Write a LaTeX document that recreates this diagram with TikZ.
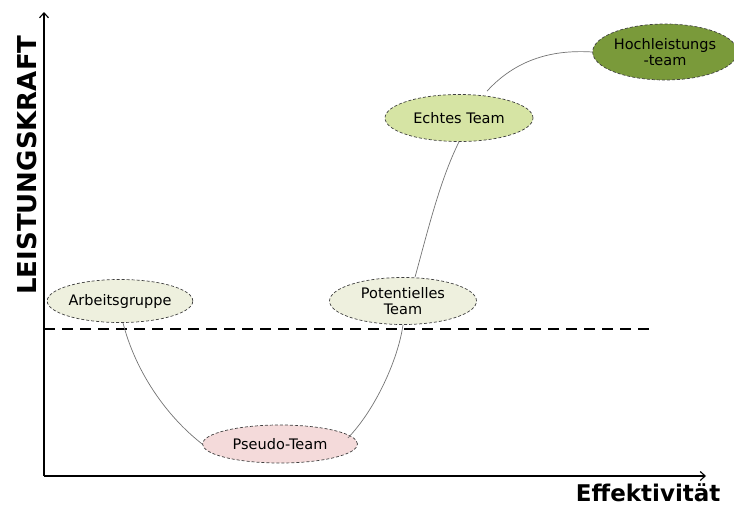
\documentclass[tikz,border=0pt]{standalone}
\usepackage{fontspec}
\setmainfont{DejaVu Sans}
\usetikzlibrary{arrows.meta,shapes.geometric}
\begin{document}
\begin{tikzpicture}[x=1pt,y=-1pt,
        phase/.style={ellipse, draw=black!75, densely dashed, line width=0.7pt,
            minimum width=#1, align=center, inner sep=0pt,
            font=\fontsize{14.5}{16}\selectfont},
        kurve/.style={draw=black!55, line width=0.7pt},
        achse/.style={line width=1.1pt, -{Straight Barb[length=5pt,width=9pt]}}]
        \useasboundingbox (0,0) rectangle (734,506);

        % Achsen
        \coordinate (ursprung) at (44,476);
        \coordinate (yende) at (44,12);
        \coordinate (xende) at (706,476);
        \draw[achse] (ursprung) -- (yende);
        \draw[achse] (ursprung) -- (xende);
        \node[rotate=90, font=\bfseries\fontsize{26}{28}\selectfont] (ylabel) at (27,165) {LEISTUNGSKRAFT};
        \node[font=\bfseries\fontsize{23}{25}\selectfont, anchor=east] (xlabel) at (724,493) {Effektivität};

        % Grenze
        \coordinate (gl) at (44,329);
        \coordinate (gr) at (656,329);
        \draw[line width=1.1pt, dash pattern=on 11pt off 7pt] (gl) -- (gr);

        % Phasen
        \node[phase=144pt, minimum height=43pt, fill={rgb,255:red,238;green,240;blue,222}] (arbeit) at (120,301) {Arbeitsgruppe};
        \node[phase=155pt, minimum height=38pt, fill={rgb,255:red,244;green,218;blue,218}] (pseudo) at (280,444) {Pseudo-Team};
        \node[phase=147pt, minimum height=47pt, fill={rgb,255:red,238;green,240;blue,222}] (potent) at (403,301) {Potentielles\\Team};
        \node[phase=148pt, minimum height=47pt, fill={rgb,255:red,214;green,228;blue,164}] (echt) at (459,118) {Echtes Team};
        \node[phase=135pt, minimum height=56pt, fill={rgb,255:red,122;green,154;blue,58}] (hoch) at (665,52) {Hochleistungs\\-team};

        % Kurve
        \draw[kurve] (arbeit.south) ++(3,0) .. controls (135,370) and (165,415) .. (pseudo.west);
        \draw[kurve] (pseudo.east) ++(-10,-6) .. controls (375,410) and (398,360) .. (potent.south);
        \draw[kurve] (potent.north) ++(12,0) .. controls (428,230) and (440,180) .. (echt.south);
        \draw[kurve] (echt.north) ++(28,-3) .. controls (520,55) and (560,50) .. (hoch.west);

    \end{tikzpicture}
\end{document}
